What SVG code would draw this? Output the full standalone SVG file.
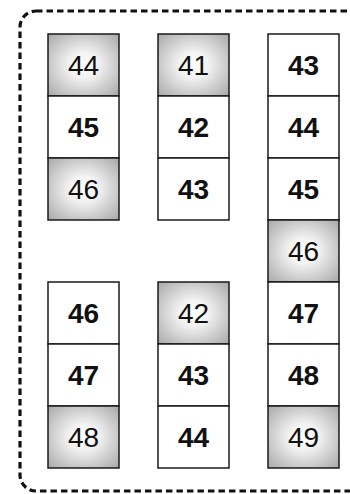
<svg xmlns="http://www.w3.org/2000/svg" width="350" height="494" viewBox="0 0 350 494">
<defs>
<radialGradient id="g" cx="50%" cy="50%" r="70%">
<stop offset="0" stop-color="#ffffff"/>
<stop offset="0.3" stop-color="#f2f2f2"/>
<stop offset="1" stop-color="#a8a8a8"/>
</radialGradient>
</defs>
<style>
.b{stroke:#1a1a1a;stroke-width:1.5;fill:#fff}
.s{stroke:#1a1a1a;stroke-width:1.5;fill:url(#g)}
.n{font-family:"Liberation Sans",Arial,sans-serif;font-size:28px;text-anchor:middle;fill:#111}
.bold{font-weight:bold}
.frame{fill:none;stroke:#111;stroke-width:3.2;stroke-dasharray:6.5 4}
</style>
<rect class="frame" x="20" y="11" width="350" height="480" rx="16"/>
<g id="c1">
<g id="c1a"><rect class="s" x="48" y="34" width="71" height="62"/><text class="n" x="83.5" y="75">44</text></g>
<g id="c1b"><rect class="b" x="48" y="96" width="71" height="62"/><text class="n bold" x="83.5" y="137">45</text></g>
<g id="c1c"><rect class="s" x="48" y="158" width="71" height="62"/><text class="n" x="83.5" y="199">46</text></g>
</g>
<g id="c2">
<g id="c2a"><rect class="s" x="158" y="34" width="71" height="62"/><text class="n" x="193.5" y="75">41</text></g>
<g id="c2b"><rect class="b" x="158" y="96" width="71" height="62"/><text class="n bold" x="193.5" y="137">42</text></g>
<g id="c2c"><rect class="b" x="158" y="158" width="71" height="62"/><text class="n bold" x="193.5" y="199">43</text></g>
</g>
<g id="c3">
<g id="c3a"><rect class="b" x="268" y="34" width="71" height="62"/><text class="n bold" x="303.5" y="75">43</text></g>
<g id="c3b"><rect class="b" x="268" y="96" width="71" height="62"/><text class="n bold" x="303.5" y="137">44</text></g>
<g id="c3c"><rect class="b" x="268" y="158" width="71" height="62"/><text class="n bold" x="303.5" y="199">45</text></g>
<g id="c3d"><rect class="s" x="268" y="220" width="71" height="62"/><text class="n" x="303.5" y="261">46</text></g>
<g id="c3e"><rect class="b" x="268" y="282" width="71" height="62"/><text class="n bold" x="303.5" y="323">47</text></g>
<g id="c3f"><rect class="b" x="268" y="344" width="71" height="62"/><text class="n bold" x="303.5" y="385">48</text></g>
<g id="c3g"><rect class="s" x="268" y="406" width="71" height="62"/><text class="n" x="303.5" y="447">49</text></g>
</g>
<g id="c4">
<g id="c4a"><rect class="b" x="48" y="282" width="71" height="62"/><text class="n bold" x="83.5" y="323">46</text></g>
<g id="c4b"><rect class="b" x="48" y="344" width="71" height="62"/><text class="n bold" x="83.5" y="385">47</text></g>
<g id="c4c"><rect class="s" x="48" y="406" width="71" height="62"/><text class="n" x="83.5" y="447">48</text></g>
</g>
<g id="c5">
<g id="c5a"><rect class="s" x="158" y="282" width="71" height="62"/><text class="n" x="193.5" y="323">42</text></g>
<g id="c5b"><rect class="b" x="158" y="344" width="71" height="62"/><text class="n bold" x="193.5" y="385">43</text></g>
<g id="c5c"><rect class="b" x="158" y="406" width="71" height="62"/><text class="n bold" x="193.5" y="447">44</text></g>
</g>
<g id="connectors"/>
</svg>
